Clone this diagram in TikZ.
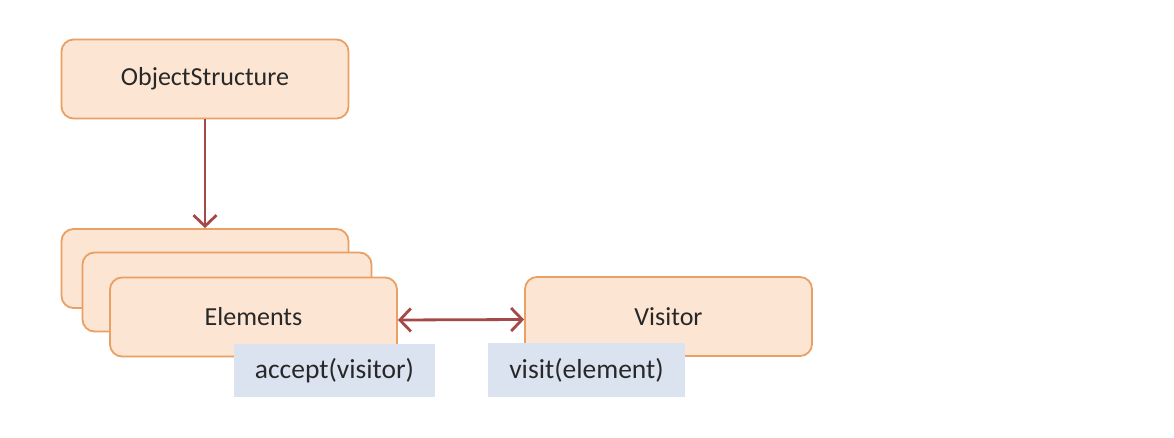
\documentclass[tikz,border=0pt]{standalone}
\usepackage{fontspec}
\setmainfont{Carlito}
\usetikzlibrary{arrows.meta}
\definecolor{boxfill}{RGB}{252,229,211}
\definecolor{boxline}{RGB}{232,160,100}
\definecolor{lblfill}{RGB}{219,227,241}
\definecolor{arrowcol}{RGB}{163,74,72}
\definecolor{txt}{RGB}{40,40,40}
\begin{document}
\begin{tikzpicture}[x=1pt,y=-1pt,
  boxstyle/.style={draw=boxline, fill=boxfill, line width=1.8pt, rounded corners=12pt,
    minimum width=#1, minimum height=79pt, inner sep=0pt, text=txt,
    font=\fontsize{26}{30}\selectfont},
  boxstyle/.default=287pt,
  lblstyle/.style={fill=lblfill, inner sep=0pt, text=txt,
    font=\fontsize{27.5}{32}\selectfont},
  tip/.tip={Straight Barb[length=11pt,width=23pt,line width=2.8pt]},
  conn/.style={draw=arrowcol, line width=2.8pt}
]
\useasboundingbox (0,0) rectangle (1174,438);
\node[boxstyle] (os) at (205,79) {ObjectStructure};
\node[boxstyle] (back1) at (205,268.5) {};
\node[boxstyle=289pt] (back2) at (227,292) {};
\node[boxstyle] (elem) at (253.5,317) {Elements};
\node[boxstyle] (vis) at (668.5,316.5) {Visitor};
\node[lblstyle, minimum width=201pt, minimum height=53pt] (accept) at (334.5,370.5) {accept(visitor)};
\node[lblstyle, minimum width=197pt, minimum height=54pt] (visit) at (586.5,370) {visit(element)};
\draw[conn, -tip] (os.south) -- (back1.north);
\draw[conn, tip-tip] ([yshift=-3pt]elem.east) -- ([yshift=-3pt]vis.west);
\end{tikzpicture}
\end{document}
